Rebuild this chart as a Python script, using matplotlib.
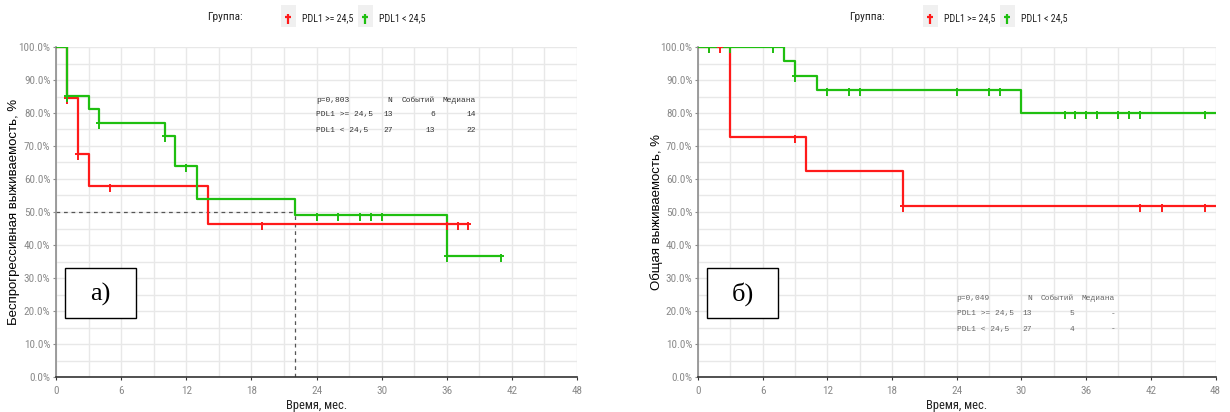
import numpy as np
import matplotlib
matplotlib.use("Agg")
import matplotlib.pyplot as plt
from matplotlib import font_manager as fm
from matplotlib.path import Path
from matplotlib.patches import Rectangle
from matplotlib.lines import Line2D

# --- Kaplan-Meier data (months, % surviving) ---
# panel a) progression-free survival
pfs_hi_t = [0, 1, 2, 3, 14, 38]
pfs_hi_s = [100, 84.6, 67.7, 58.0, 46.4, 46.4]
pfs_hi_cens = [1, 2, 5, 19, 36, 37, 38]

pfs_lo_t = [0, 1, 3, 4, 10, 11, 13, 22, 36, 41]
pfs_lo_s = [100, 85.2, 81.3, 77.1, 73.0, 63.8, 54.0, 49.2, 36.7, 36.7]
pfs_lo_cens = [1, 4, 10, 12, 24, 26, 28, 29, 30, 36, 41]

pfs_median = 22

# panel б) overall survival
os_hi_t = [0, 3, 10, 19, 48]
os_hi_s = [100, 72.8, 62.4, 51.9, 51.9]
os_hi_cens = [1, 2, 9, 19, 41, 43, 47]

os_lo_t = [0, 8, 9, 11, 30, 48]
os_lo_s = [100, 95.8, 91.3, 86.9, 80.1, 80.1]
os_lo_cens = [1, 3, 7, 9, 12, 14, 15, 24, 27, 28, 34, 35, 36, 37, 39, 40, 41, 47]

group_labels = ["PDL1 >= 24,5", "PDL1 < 24,5"]
pfs_table = {"p": "p=0,803", "n": ["13", "27"], "events": ["6", "13"], "median": ["14", "22"]}
os_table = {"p": "p=0,049", "n": ["13", "27"], "events": ["5", "4"], "median": ["-", "-"]}

RED = "#ff1a1a"
GREEN = "#1fbf10"

W, H = 1230, 412

# narrow sans for ticks / legend, whatever condensed face is installed
names = {f.name for f in fm.fontManager.ttflist}
condensed_dejavu = any(f.name == "DejaVu Sans" and f.stretch in ("condensed", "semi-condensed")
                       for f in fm.fontManager.ttflist)
NARROW = dict(family="Liberation Sans")
NARROW_SCALE = 0.86
for cand in ["Liberation Sans Narrow", "Arial Narrow", "Roboto Condensed", "Open Sans Condensed"]:
    if cand in names:
        NARROW = dict(family=cand)
        NARROW_SCALE = 1.0
        break
else:
    if condensed_dejavu:
        NARROW = dict(family="DejaVu Sans", stretch="condensed")
        NARROW_SCALE = 0.92


def nfs(size):
    return size * NARROW_SCALE


def px(x, y):
    return x / W, 1 - y / H


# censor tick: short cross bar, longer stem hanging below the curve
cens_marker = Path([(-0.45, 0), (0.45, 0), (0, 0.4), (0, -1.0)],
                   [Path.MOVETO, Path.LINETO, Path.MOVETO, Path.LINETO])


def level_at(t, times, surv):
    i = np.searchsorted(times, t, side="right") - 1
    return surv[i]


def km(ax, times, surv, color):
    ax.step(times, surv, where="post", color=color, lw=1.6, zorder=3)


def censors(ax, times, cens, surv, color):
    ys = [level_at(c, times, surv) for c in cens]
    ax.plot(cens, ys, ls="none", marker=cens_marker, ms=9, mew=1.4,
            color=color, zorder=4)


def style_axes(ax):
    ax.set_xlim(0, 48)
    ax.set_ylim(0, 100)
    ax.set_xticks(np.arange(0, 49, 6))
    ax.set_xticks(np.arange(0, 49, 3), minor=True)
    ax.set_yticks(np.arange(0, 101, 10))
    ax.set_yticks(np.arange(0, 101, 5), minor=True)
    ax.set_yticklabels([f"{v:.1f}%" for v in np.arange(0, 101, 10)])
    ax.grid(True, which="both", color="#e8e8e8", lw=1, zorder=0)
    ax.set_axisbelow(True)
    for s in ["top", "right"]:
        ax.spines[s].set_visible(False)
    ax.spines["left"].set_color("#8c8c8c")
    ax.spines["bottom"].set_color("#333333")
    ax.spines["left"].set_linewidth(1.2)
    ax.spines["bottom"].set_linewidth(1.2)
    ax.tick_params(which="major", length=2.5, color="#8c8c8c", labelcolor="#8a8a8a",
                   labelsize=nfs(8), pad=1.5)
    ax.tick_params(axis="x", which="major", color="#333333", pad=4)
    ax.tick_params(which="minor", length=0)
    for lab in ax.get_xticklabels() + ax.get_yticklabels():
        lab.set_fontproperties(fm.FontProperties(size=nfs(8), **NARROW))
    ax.set_xlabel("Время, мес.", fontsize=nfs(9), color="#222222", labelpad=2, **NARROW)


def stats_table(ax, tab, yh, ys, color):
    kw = dict(family=["Liberation Mono", "DejaVu Sans Mono"], fontsize=5.7,
              color=color, va="center")
    ax.text(24, yh, tab["p"], ha="left", **kw)
    ax.text(31, yh, "N", ha="right", **kw)
    ax.text(34.9, yh, "Событий", ha="right", **kw)
    ax.text(38.7, yh, "Медиана", ha="right", **kw)
    for i in range(2):
        ax.text(24, ys[i], group_labels[i], ha="left", **kw)
        ax.text(31, ys[i], tab["n"][i], ha="right", **kw)
        ax.text(34.9, ys[i], tab["events"][i], ha="right", **kw)
        ax.text(38.7, ys[i], tab["median"][i], ha="right", **kw)


def legend(fig, x0):
    fig.text(*px(x0 + 169, 17), "Группа:", fontsize=nfs(8.2),
             color="#222222", ha="center", va="center", **NARROW)
    for dx, color, label in [(231, RED, group_labels[0]), (308, GREEN, group_labels[1])]:
        x, y = px(x0 + dx - 6, 27)
        fig.patches.append(Rectangle((x, y), 15 / W, 22 / H, transform=fig.transFigure,
                                     facecolor="#f0f0f0", edgecolor="none"))
        mx, my = px(x0 + dx + 1, 17)
        fig.lines.append(Line2D([mx], [my], transform=fig.transFigure, ls="none",
                                marker=cens_marker, ms=10, mew=1.6, color=color))
        fig.text(*px(x0 + dx + 15, 18), label, fontsize=nfs(7.2),
                 color="#222222", ha="left", va="center", **NARROW)


def panel_box(fig, x0, text):
    x, y = px(x0 + 9, 318)
    fig.patches.append(Rectangle((x, y), 71 / W, 50 / H, transform=fig.transFigure,
                                 facecolor="white", edgecolor="black", lw=1, zorder=5))
    fig.text(*px(x0 + 44.5, 294), text, family=["Liberation Serif", "DejaVu Serif"],
             fontsize=19, ha="center", va="center", zorder=6)


fig = plt.figure(figsize=(W / 100, H / 100), dpi=100)

ax1 = fig.add_axes([56 / W, 35 / H, 521 / W, 330 / H])
ax2 = fig.add_axes([698 / W, 35 / H, 517.5 / W, 330 / H])

# a) progression-free survival
style_axes(ax1)
ax1.plot([0, pfs_median], [50, 50], ls=(0, (3, 3)), color="#555555", lw=0.9, zorder=2)
ax1.plot([pfs_median, pfs_median], [0, 50], ls=(0, (3, 3)), color="#555555", lw=0.9, zorder=2)
km(ax1, pfs_hi_t, pfs_hi_s, RED)
km(ax1, pfs_lo_t, pfs_lo_s, GREEN)
censors(ax1, pfs_hi_t, pfs_hi_cens, pfs_hi_s, RED)
censors(ax1, pfs_lo_t, pfs_lo_cens, pfs_lo_s, GREEN)
stats_table(ax1, pfs_table, 83.9, [79.5, 74.8], "#333333")

# б) overall survival
style_axes(ax2)
km(ax2, os_hi_t, os_hi_s, RED)
km(ax2, os_lo_t, os_lo_s, GREEN)
censors(ax2, os_hi_t, os_hi_cens, os_hi_s, RED)
censors(ax2, os_lo_t, os_lo_cens, os_lo_s, GREEN)
stats_table(ax2, os_table, 23.8, [19.3, 14.5], "#666666")

fig.text(*px(14, 212), "Беспрогрессивная выживаемость, %", rotation=90,
         family=["Liberation Sans", "DejaVu Sans"], fontsize=9.5, ha="center", va="center")
fig.text(*px(657, 212), "Общая выживаемость, %", rotation=90,
         family=["Liberation Sans", "DejaVu Sans"], fontsize=9.5, ha="center", va="center")

legend(fig, 56)
legend(fig, 698)
panel_box(fig, 56, "а)")
panel_box(fig, 698, "б)")

fig.savefig("out.png", dpi=100)
